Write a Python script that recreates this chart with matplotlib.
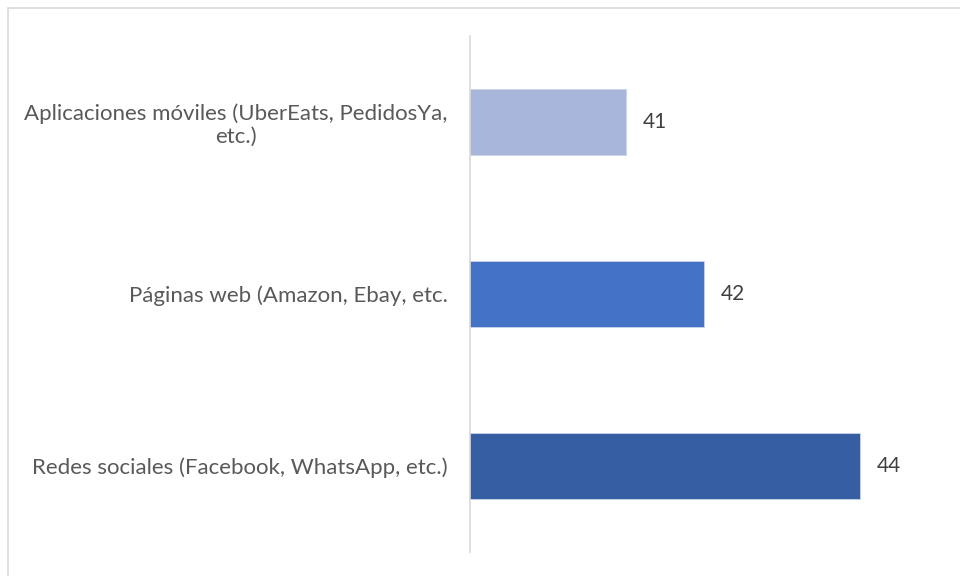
import matplotlib.pyplot as plt
from matplotlib.patches import Rectangle

# Chart data, bottom to top
categories = [
    "Redes sociales (Facebook, WhatsApp, etc.)",
    "Páginas web (Amazon, Ebay, etc.",
    "Aplicaciones móviles (UberEats, PedidosYa,\netc.)",
]
values = [44, 42, 41]
colors = ["#355EA3", "#4472C4", "#A9B6DC"]

plt.rcParams["font.family"] = ["Lato", "DejaVu Sans"]

fig = plt.figure(figsize=(9.6, 5.76), dpi=100)
ax = fig.add_axes([470 / 960, 1 - 552 / 576, 468 / 960, 516 / 576])

y = range(len(categories))
bars = ax.barh(y, values, height=0.38, color=colors, edgecolor="#C9D3EA",
               linewidth=0.6)

for b, v in zip(bars, values):
    ax.text(b.get_width() + 0.37, b.get_y() + b.get_height() / 2, str(v),
            va="center", ha="center", fontsize=15, color="#404040")

ax.set_xlim(39, 45)
ax.set_ylim(-0.5, 2.5)
ax.set_yticks(list(y))
ax.set_yticklabels(categories, fontsize=16, color="#595959",
                   multialignment="center", linespacing=1.15)
ax.tick_params(axis="y", length=0, pad=16)
ax.set_xticks([])

for side in ["top", "right", "bottom"]:
    ax.spines[side].set_visible(False)
ax.spines["left"].set_color("#D9D9D9")
ax.spines["left"].set_linewidth(1.2)

# light frame around the chart area
fig.patches.append(Rectangle((8 / 960, -0.02), 1.0, 1 - 8 / 576 + 0.02,
                             transform=fig.transFigure, fill=False,
                             edgecolor="#D9D9D9", linewidth=1.2))

fig.savefig("out.png", dpi=100)
